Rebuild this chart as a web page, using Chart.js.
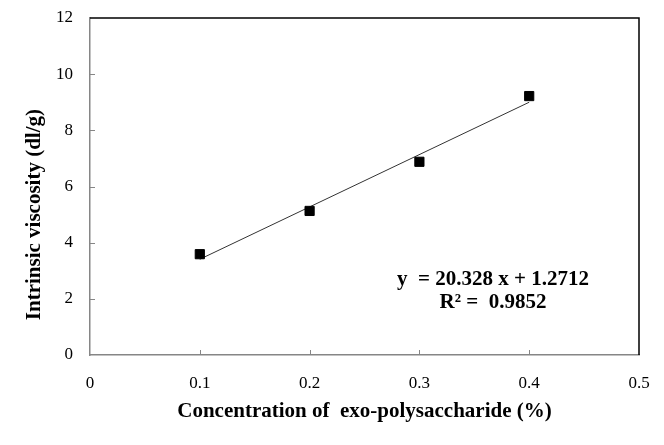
<!DOCTYPE html>
<html lang="en">
<head>
  <meta charset="UTF-8" />
  <title>Intrinsic viscosity</title>
  <script src="https://cdn.jsdelivr.net/npm/chart.js"></script>
  <style>
    body {
      margin: 0;
      padding: 0;
      background: #fff;
    }
    #grafico {
      display: block;
    }
  </style>
</head>
<body>
  <canvas id="grafico" width="664" height="445"></canvas>

  <script>
    // data
    const concentration = [0.1, 0.2, 0.3, 0.4];
    const viscosity = [3.59, 5.13, 6.88, 9.22];
    const xTicks = [0, 0.1, 0.2, 0.3, 0.4, 0.5];
    const yTicks = [0, 2, 4, 6, 8, 10, 12];
    const equationLines = ['y  = 20.328 x + 1.2712', 'R\u00B2 =  0.9852'];
    const xTitle = 'Concentration of  exo-polysaccharide (%)';
    const yTitle = 'Intrinsic viscosity (dl/g)';

    // least squares fit for the trend line
    function ajuste(xs, ys) {
      const n = xs.length;
      const mx = xs.reduce((a, b) => a + b, 0) / n;
      const my = ys.reduce((a, b) => a + b, 0) / n;
      let sxy = 0, sxx = 0;
      for (let i = 0; i < n; i++) {
        sxy += (xs[i] - mx) * (ys[i] - my);
        sxx += (xs[i] - mx) * (xs[i] - mx);
      }
      const slope = sxy / sxx;
      return { slope: slope, intercept: my - slope * mx };
    }

    const fit = ajuste(concentration, viscosity);
    const xMin = Math.min(...concentration);
    const xMax = Math.max(...concentration);
    const trendPoints = [xMin, xMax].map(x => ({ x: x, y: fit.intercept + fit.slope * x }));

    const fonte = "'Liberation Serif', 'Times New Roman', serif";

    // frame, inward ticks, y title and equation
    const extras = {
      id: 'extras',
      afterDraw(chart) {
        const ctx = chart.ctx;
        const a = chart.chartArea;
        const xs = chart.scales.x;
        const ys = chart.scales.y;
        ctx.save();

        // top and right edges in black
        ctx.strokeStyle = '#000';
        ctx.lineWidth = 1.5;
        ctx.beginPath();
        ctx.moveTo(a.left, a.top);
        ctx.lineTo(a.right, a.top);
        ctx.lineTo(a.right, a.bottom);
        ctx.stroke();

        // tick marks pointing inwards
        ctx.strokeStyle = '#868686';
        ctx.lineWidth = 1;
        ctx.beginPath();
        yTicks.slice(1, -1).forEach(v => {
          const py = Math.round(ys.getPixelForValue(v)) + 0.5;
          ctx.moveTo(a.left, py);
          ctx.lineTo(a.left + 5, py);
        });
        xTicks.slice(1, -1).forEach(v => {
          const px = Math.round(xs.getPixelForValue(v)) + 0.5;
          ctx.moveTo(px, a.bottom);
          ctx.lineTo(px, a.bottom - 5);
        });
        ctx.stroke();

        // y axis title
        ctx.fillStyle = '#000';
        ctx.font = 'bold 21px ' + fonte;
        ctx.textAlign = 'center';
        ctx.textBaseline = 'middle';
        ctx.translate(35, ys.getPixelForValue(5));
        ctx.rotate(-Math.PI / 2);
        ctx.fillText(yTitle, 0, 0);
        ctx.setTransform(1, 0, 0, 1, 0, 0);

        // equation
        ctx.font = 'bold 21px ' + fonte;
        const ex = xs.getPixelForValue(0.367);
        ctx.fillText(equationLines[0], ex, ys.getPixelForValue(2.67));
        ctx.fillText(equationLines[1], ex, ys.getPixelForValue(1.85));
        ctx.restore();
      }
    };

    const ctx = document.getElementById('grafico').getContext('2d');
    new Chart(ctx, {
      type: 'scatter',
      data: {
        datasets: [
          {
            label: 'Intrinsic viscosity',
            data: concentration.map((x, i) => ({ x: x, y: viscosity[i] })),
            backgroundColor: '#000',
            borderColor: '#000',
            pointStyle: 'rect',
            pointRadius: 6.5,
            pointHoverRadius: 6.5
          },
          {
            label: 'Linear',
            type: 'line',
            data: trendPoints,
            borderColor: '#333',
            borderWidth: 1,
            pointRadius: 0,
            fill: false
          }
        ]
      },
      options: {
        responsive: false,
        animation: false,
        devicePixelRatio: 1,
        layout: { autoPadding: false, padding: { top: 18, right: 25, left: 0, bottom: 0 } },
        plugins: {
          legend: { display: false },
          tooltip: { enabled: false }
        },
        scales: {
          x: {
            type: 'linear',
            min: 0,
            max: 0.5,
            afterBuildTicks: s => { s.ticks = xTicks.map(v => ({ value: v })); },
            afterFit: s => { s.height = 90; s.paddingLeft = 0; s.paddingRight = 0; },
            grid: { display: false, drawTicks: false },
            border: { display: true, color: '#868686', width: 1.5 },
            ticks: {
              padding: 18,
              color: '#000',
              maxRotation: 0,
              font: { family: fonte, size: 17 },
              callback: v => String(v)
            },
            title: {
              display: true,
              text: xTitle,
              color: '#000',
              padding: { top: 0, bottom: 21 },
              font: { family: fonte, size: 21, weight: 'bold' }
            }
          },
          y: {
            min: 0,
            max: 12,
            afterBuildTicks: s => { s.ticks = yTicks.map(v => ({ value: v })); },
            afterFit: s => { s.width = 90; s.paddingTop = 0; s.paddingBottom = 0; },
            grid: { display: false, drawTicks: false },
            border: { display: true, color: '#868686', width: 1.5 },
            ticks: {
              padding: 17,
              color: '#000',
              font: { family: fonte, size: 17 }
            }
          }
        }
      },
      plugins: [extras]
    });
  </script>
</body>
</html>
